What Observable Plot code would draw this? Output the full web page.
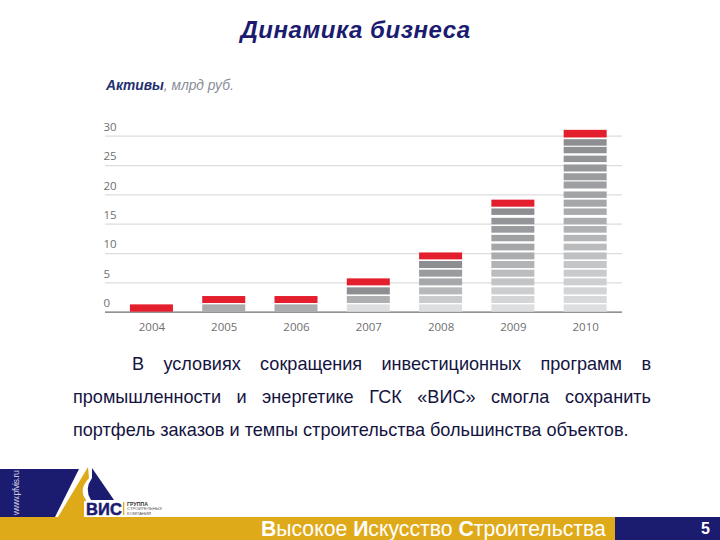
<!DOCTYPE html>
<html>
<head>
<meta charset="utf-8">
<script src="https://cdn.jsdelivr.net/npm/d3@7"></script>
<script src="https://cdn.jsdelivr.net/npm/@observablehq/plot@0.6"></script>
<style>
  html, body { margin: 0; padding: 0; background: #fff; }
  #page { position: relative; width: 720px; height: 540px; overflow: hidden; font-family: "Liberation Sans", Arial, sans-serif; }
  #page > * { position: absolute; }
  #title { left: 0; width: 711px; top: 16px; text-align: center; font-size: 24px; letter-spacing: 0.55px; font-weight: bold; font-style: italic; color: #1b1b6f; }
  #subtitle { left: 106px; top: 78px; font-size: 13.8px; font-style: italic; color: #8a8d99; }
  #subtitle b { color: #1f2f6f; }
  #chart { left: 0; top: 0; }
  #text { left: 73px; width: 578px; top: 348px; font-size: 18.1px; line-height: 32.8px; color: #14143f; text-align: justify; text-indent: 59px; }
  #logo { left: 0; top: 465px; }
  #strip { left: 0; top: 517px; width: 615px; height: 23px; background: #dfaa1a; }
  #motto { left: 261px; top: 517px; font-size: 21.2px; line-height: 23px; color: #fff; white-space: nowrap; }
  #num { left: 615px; top: 517px; width: 105px; height: 23px; background: #1b1b6f; }
  #num span { position: absolute; left: 86px; top: 0; font-size: 16px; line-height: 24px; font-weight: bold; color: #fff; }
</style>
</head>
<body>
<div id="page">
  <div id="title">Динамика бизнеса</div>
  <div id="subtitle"><b>Активы</b>, млрд руб.</div>
  <div id="chart"></div>
  <div id="text">В условиях сокращения инвестиционных программ в промышленности и энергетике ГСК «ВИС» смогла сохранить портфель заказов и темпы строительства большинства объектов.</div>
  <svg id="logo" width="200" height="56" viewBox="0 465 200 56">
    <polygon points="0,469 79,469 55,517 0,517" fill="#1b1b6f"/>
    <path d="M88,467 L58,517 L86,517 L86,500 Q78,490 89,478 Z" fill="#dfaa1a"/>
    <path d="M92,468 L114,500 L91,500 Q84,489 92,478 Z" fill="#1b1b6f"/>
    <text transform="translate(19,515) rotate(-90)" font-size="9" textLength="45" fill="#c9cbe0" font-family="Liberation Sans">www.pfvis.ru</text>
    <rect x="84" y="501" width="38" height="16" fill="#fff"/>
    <text x="86" y="514.5" font-size="16.5" font-weight="bold" stroke="#1b1b6f" stroke-width="0.5" fill="#1b1b6f" font-family="Liberation Sans" textLength="36">ВИС</text>
    <rect x="123" y="502" width="1.3" height="13" fill="#dfaa1a"/>
    <text x="127" y="505.5" font-size="5.2" font-weight="bold" fill="#333" font-family="Liberation Sans" textLength="21">ГРУППА</text>
    <text x="127" y="510" font-size="4.2" fill="#555" font-family="Liberation Sans" textLength="35">СТРОИТЕЛЬНЫХ</text>
    <text x="127" y="514.5" font-size="4.2" fill="#555" font-family="Liberation Sans" textLength="24">КОМПАНИЙ</text>
  </svg>
  <div id="strip"></div>
  <div id="motto"><b>В</b>ысокое <b>И</b>скусство <b>С</b>троительства</div>
  <div id="num"><span>5</span></div>
</div>
<script>
const years = ["2004", "2005", "2006", "2007", "2008", "2009", "2010"]
// number of blocks in each column, the last one is the red one
const blockCounts = [1, 2, 2, 4, 7, 13, 21]
// edges of the blocks in млрд руб, from the axis upward
const blockBottoms = [0, 1.48, 2.95, 4.49, 5.97, 7.44, 8.92, 10.45, 12.0, 13.47, 14.9, 16.5, 17.9, 19.4, 21.0, 22.4, 23.9, 25.5, 27.0, 28.3, 29.7]
const blockTops = [1.25, 2.67, 4.15, 5.68, 7.16, 8.64, 10.1, 11.6, 13.1, 14.6, 16.0, 17.6, 19.1, 20.5, 22.2, 23.6, 25.1, 26.6, 28.1, 29.4, 31.0]
const yTicks = [0, 5, 10, 15, 20, 25, 30]

const blocks = years.flatMap((year, i) => d3.range(blockCounts[i]).map(k => ({
  year,
  y1: blockBottoms[k],
  y2: blockTops[k],
  top: k === blockCounts[i] - 1,
  // how far up the grey part of its column the block sits
  level: blockCounts[i] > 2 ? k / (blockCounts[i] - 2) : 0.55
})))

let chart = Plot.plot({
  width: 720,
  height: 340,
  marginLeft: 105,
  marginRight: 98,
  marginTop: 0,
  marginBottom: 0,
  style: { background: "transparent", fontFamily: "'Open Sans', sans-serif", fontSize: "11.5px", color: "#6f6f6f" },
  x: { type: "band", domain: years, range: [115.3, 621.3], paddingInner: 0.405, paddingOuter: 0.2025, round: false, label: null },
  y: { domain: [0, 30], range: [311.7, 135.7], label: null },
  color: { type: "linear", domain: [0, 0.5, 1], range: ["#dddee0", "#aeafb1", "#8d8e91"] },
  marks: [
    Plot.ruleY(yTicks.slice(1), { stroke: "#dcdcdc", strokeWidth: 1.3 }),
    Plot.ruleY([0], { stroke: "#6e6e6e", strokeWidth: 1.2 }),
    Plot.rectY(blocks.filter(d => !d.top), { x: "year", y1: "y1", y2: "y2", fill: "level" }),
    Plot.rectY(blocks.filter(d => d.top), { x: "year", y1: "y1", y2: "y2", fill: "#e31e2d" }),
    Plot.axisY({ ticks: yTicks, tickSize: 0, anchor: "left", textAnchor: "start", dx: -2, dy: -9, label: null, tickPadding: 0 }),
    Plot.axisX({ tickSize: 0, anchor: "bottom", y: 0, dy: 11, label: null, tickPadding: 0 })
  ]
})

d3.select("#chart").append(() => chart)
</script>
</body>
</html>
